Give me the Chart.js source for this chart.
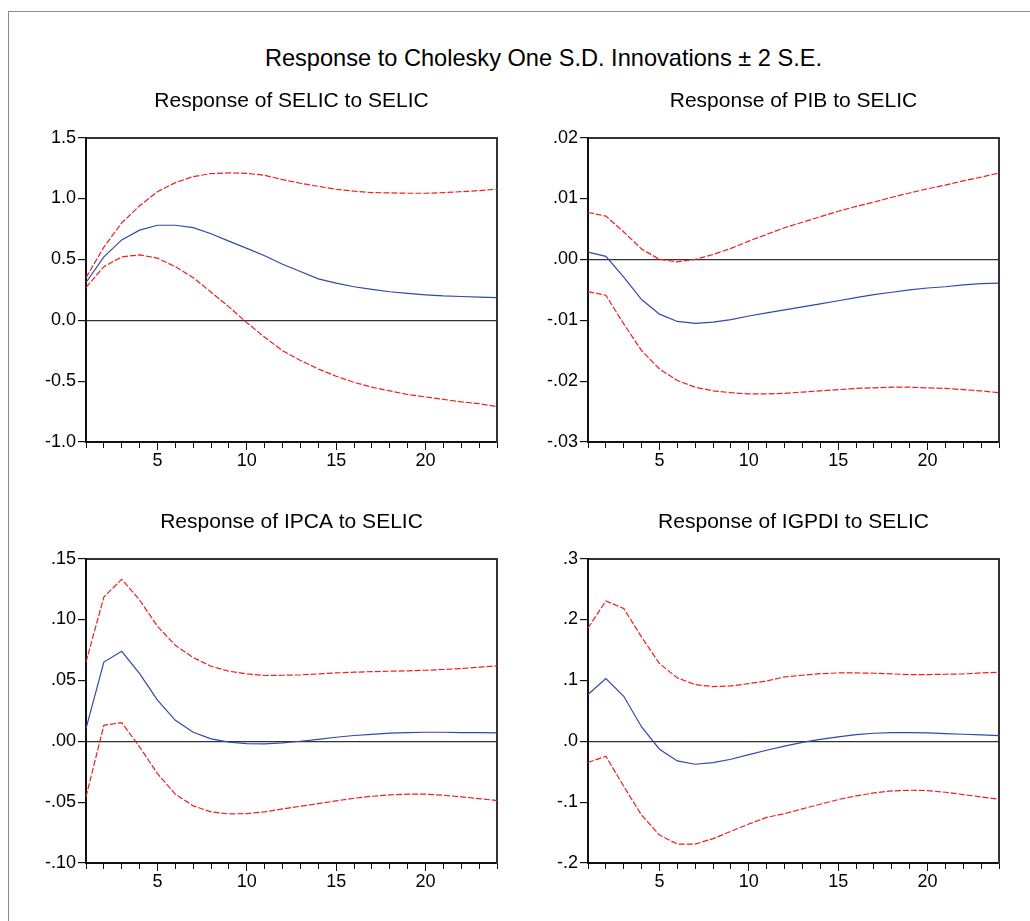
<!DOCTYPE html>
<html lang="en">
<head>
    <meta charset="UTF-8">
    <title>Response to Cholesky One S.D. Innovations</title>
    <script src="https://cdn.jsdelivr.net/npm/chart.js"></script>
    <style>
        body {
            margin: 0;
            background: #fff;
            font-family: 'Liberation Sans', Arial, sans-serif;
        }
        .frame {
            position: absolute;
            left: 8px;
            top: 11px;
            width: 1100px;
            height: 1000px;
            border-left: 1px solid #8a8a8a;
            border-top: 1px solid #8a8a8a;
        }
        .main-title {
            position: absolute;
            left: 0;
            top: 44px;
            width: 1087px;
            text-align: center;
            font-size: 23.6px;
            line-height: 28px;
            color: #000;
        }
        canvas {
            position: absolute;
        }
    </style>
</head>
<body>

    <div class="frame"></div>
    <div class="main-title">Response to Cholesky One S.D. Innovations ± 2 S.E.</div>

    <canvas id="selicChart" width="517" height="422" style="left:0;top:60px"></canvas>
    <canvas id="pibChart" width="517" height="422" style="left:502px;top:60px"></canvas>
    <canvas id="ipcaChart" width="517" height="421" style="left:0;top:482px"></canvas>
    <canvas id="igpdiChart" width="517" height="421" style="left:502px;top:482px"></canvas>

    <script>
        // Horizonte (períodos) e rótulos do eixo x
        const periods = [1, 2, 3, 4, 5, 6, 7, 8, 9, 10, 11, 12, 13, 14, 15, 16, 17, 18, 19, 20, 21, 22, 23, 24];
        const xLabelPeriods = [5, 10, 15, 20];

        // Resposta da SELIC a SELIC
        const selicResp = [0.31, 0.52, 0.66, 0.74, 0.78, 0.78, 0.76, 0.71, 0.65, 0.59, 0.53, 0.46, 0.40, 0.34, 0.305, 0.275, 0.253, 0.234, 0.22, 0.209, 0.20, 0.195, 0.19, 0.185];
        const selicUpper = [0.35, 0.60, 0.80, 0.94, 1.056, 1.13, 1.18, 1.204, 1.21, 1.207, 1.19, 1.155, 1.125, 1.10, 1.076, 1.06, 1.048, 1.046, 1.043, 1.043, 1.048, 1.056, 1.065, 1.076];
        const selicLower = [0.27, 0.44, 0.52, 0.537, 0.51, 0.44, 0.35, 0.23, 0.11, -0.02, -0.14, -0.25, -0.33, -0.40, -0.46, -0.51, -0.55, -0.58, -0.61, -0.63, -0.65, -0.67, -0.685, -0.71];
        const selicTicks = [-1.0, -0.5, 0.0, 0.5, 1.0, 1.5];
        const selicTickLabels = ['-1.0', '-0.5', '0.0', '0.5', '1.0', '1.5'];

        // Resposta do PIB a SELIC
        const pibResp = [0.0012, 0.0005, -0.0029, -0.0066, -0.009, -0.0102, -0.0105, -0.0103, -0.0099, -0.0093, -0.0088, -0.0083, -0.0078, -0.0073, -0.0068, -0.0063, -0.0058, -0.0054, -0.0050, -0.0047, -0.0045, -0.0042, -0.0040, -0.0039];
        const pibUpper = [0.0077, 0.0071, 0.0045, 0.0017, 0.0000, -0.0004, 0.0000, 0.0008, 0.0018, 0.0030, 0.0041, 0.0052, 0.0061, 0.0070, 0.0079, 0.0087, 0.0094, 0.0102, 0.0109, 0.0116, 0.0122, 0.0129, 0.0135, 0.0142];
        const pibLower = [-0.0053, -0.0059, -0.0106, -0.015, -0.018, -0.0199, -0.021, -0.0216, -0.0219, -0.0221, -0.0221, -0.022, -0.0218, -0.0216, -0.0214, -0.0212, -0.0211, -0.021, -0.021, -0.0211, -0.0212, -0.0214, -0.0216, -0.0219];
        const pibTicks = [-0.03, -0.02, -0.01, 0.0, 0.01, 0.02];
        const pibTickLabels = ['-.03', '-.02', '-.01', '.00', '.01', '.02'];

        // Resposta do IPCA a SELIC
        const ipcaResp = [0.0104, 0.065, 0.0739, 0.0556, 0.0337, 0.0172, 0.0074, 0.0019, -0.0008, -0.0019, -0.0021, -0.0014, 0.0, 0.0016, 0.0033, 0.0047, 0.0057, 0.0066, 0.0071, 0.0074, 0.0074, 0.0071, 0.0071, 0.0068];
        const ipcaUpper = [0.065, 0.1185, 0.133, 0.116, 0.0944, 0.0788, 0.0687, 0.0616, 0.0575, 0.0553, 0.054, 0.0542, 0.0545, 0.0553, 0.0561, 0.0567, 0.0572, 0.0575, 0.0578, 0.0583, 0.0589, 0.0597, 0.0608, 0.0619];
        const ipcaLower = [-0.0457, 0.0131, 0.0153, -0.0047, -0.0266, -0.0435, -0.0531, -0.058, -0.0597, -0.0594, -0.058, -0.0556, -0.0534, -0.0512, -0.049, -0.0468, -0.0452, -0.0441, -0.0435, -0.0435, -0.0443, -0.0457, -0.0471, -0.0487];
        const ipcaTicks = [-0.10, -0.05, 0.0, 0.05, 0.10, 0.15];
        const ipcaTickLabels = ['-.10', '-.05', '.00', '.05', '.10', '.15'];

        // Resposta do IGPDI a SELIC
        const igpdiResp = [0.0767, 0.103, 0.0739, 0.0235, -0.0131, -0.0323, -0.0378, -0.035, -0.0296, -0.0219, -0.0148, -0.008, -0.002, 0.003, 0.0071, 0.011, 0.0131, 0.0142, 0.0142, 0.0137, 0.0126, 0.0115, 0.0104, 0.0093];
        const igpdiUpper = [0.186, 0.2305, 0.218, 0.171, 0.1276, 0.104, 0.093, 0.0898, 0.0909, 0.0947, 0.099, 0.1057, 0.1084, 0.111, 0.1122, 0.1122, 0.1117, 0.1106, 0.1095, 0.1095, 0.11, 0.1106, 0.1122, 0.1133];
        const igpdiLower = [-0.035, -0.0246, -0.0739, -0.1215, -0.154, -0.169, -0.169, -0.16, -0.148, -0.136, -0.125, -0.119, -0.111, -0.1035, -0.0958, -0.0898, -0.0849, -0.0816, -0.0805, -0.081, -0.0838, -0.0876, -0.0914, -0.0953];
        const igpdiTicks = [-0.2, -0.1, 0.0, 0.1, 0.2, 0.3];
        const igpdiTickLabels = ['-.2', '-.1', '.0', '.1', '.2', '.3'];

        const BLUE = '#3349a8';
        const RED = 'rgb(240, 30, 30)';
        const AXIS = '#111';

        Chart.defaults.font.family = "'Liberation Sans', Arial, sans-serif";
        Chart.defaults.font.size = 18;
        Chart.defaults.color = '#000';

        function band(data) {
            return { data: data, borderColor: RED, borderWidth: 1.2, borderDash: [6, 2], pointRadius: 0, fill: false };
        }

        // Cria um painel de resposta ao impulso
        function makePanel(id, title, resp, upper, lower, ticks, tickLabels, titleTop) {
            const yMin = ticks[0];
            const yMax = ticks[ticks.length - 1];
            return new Chart(document.getElementById(id), {
                type: 'line',
                data: {
                    labels: periods,
                    datasets: [
                        band(upper),
                        band(lower),
                        { data: resp, borderColor: BLUE, borderWidth: 1.2, pointRadius: 0, fill: false }
                    ]
                },
                options: {
                    responsive: false,
                    animation: false,
                    layout: { padding: { left: 0, right: 20, top: 0, bottom: 0 } },
                    plugins: {
                        legend: { display: false },
                        tooltip: { enabled: false },
                        title: {
                            display: true,
                            text: title,
                            fullSize: false,
                            color: '#000',
                            font: { size: 21, weight: 'normal' },
                            padding: { top: titleTop, bottom: 23.6 }
                        }
                    },
                    scales: {
                        x: {
                            type: 'category',
                            position: 'bottom',
                            border: { color: AXIS, width: 2 },
                            grid: {
                                drawOnChartArea: false,
                                tickLength: 8,
                                tickColor: AXIS,
                                tickWidth: 1,
                                // ticks curtos nos períodos sem rótulo
                                tickBorderDash: c => xLabelPeriods.includes(periods[c.index]) ? [] : [5, 20]
                            },
                            ticks: {
                                autoSkip: false,
                                maxRotation: 0,
                                padding: 0,
                                callback: (v, i) => xLabelPeriods.includes(periods[i]) ? String(periods[i]) : ''
                            },
                            afterFit: s => { s.height = 40; }
                        },
                        xTop: {
                            type: 'category',
                            position: 'top',
                            border: { color: '#333', width: 2 },
                            grid: { display: false },
                            ticks: { display: false },
                            afterFit: s => { s.height = 0; }
                        },
                        y: {
                            type: 'linear',
                            min: yMin,
                            max: yMax,
                            border: { color: AXIS, width: 2 },
                            grid: {
                                tickLength: 8,
                                tickColor: AXIS,
                                lineWidth: 1.2,
                                color: c => (c.tick && Math.abs(c.tick.value) < 1e-9) ? '#333' : 'rgba(0,0,0,0)'
                            },
                            ticks: {
                                padding: 2,
                                callback: (v, i) => tickLabels[i]
                            },
                            afterBuildTicks: s => { s.ticks = ticks.map(v => ({ value: v })); },
                            afterFit: s => { s.width = 86; }
                        },
                        yRight: {
                            type: 'linear',
                            position: 'right',
                            min: yMin,
                            max: yMax,
                            border: { color: '#333', width: 2 },
                            grid: { display: false },
                            ticks: { display: false },
                            afterFit: s => { s.width = 0; }
                        }
                    }
                }
            });
        }

        makePanel('selicChart', 'Response of SELIC to SELIC', selicResp, selicUpper, selicLower, selicTicks, selicTickLabels, 28.8);
        makePanel('pibChart', 'Response of PIB to SELIC', pibResp, pibUpper, pibLower, pibTicks, pibTickLabels, 28.8);
        makePanel('ipcaChart', 'Response of IPCA to SELIC', ipcaResp, ipcaUpper, ipcaLower, ipcaTicks, ipcaTickLabels, 27.8);
        makePanel('igpdiChart', 'Response of IGPDI to SELIC', igpdiResp, igpdiUpper, igpdiLower, igpdiTicks, igpdiTickLabels, 27.8);
    </script>
</body>
</html>
